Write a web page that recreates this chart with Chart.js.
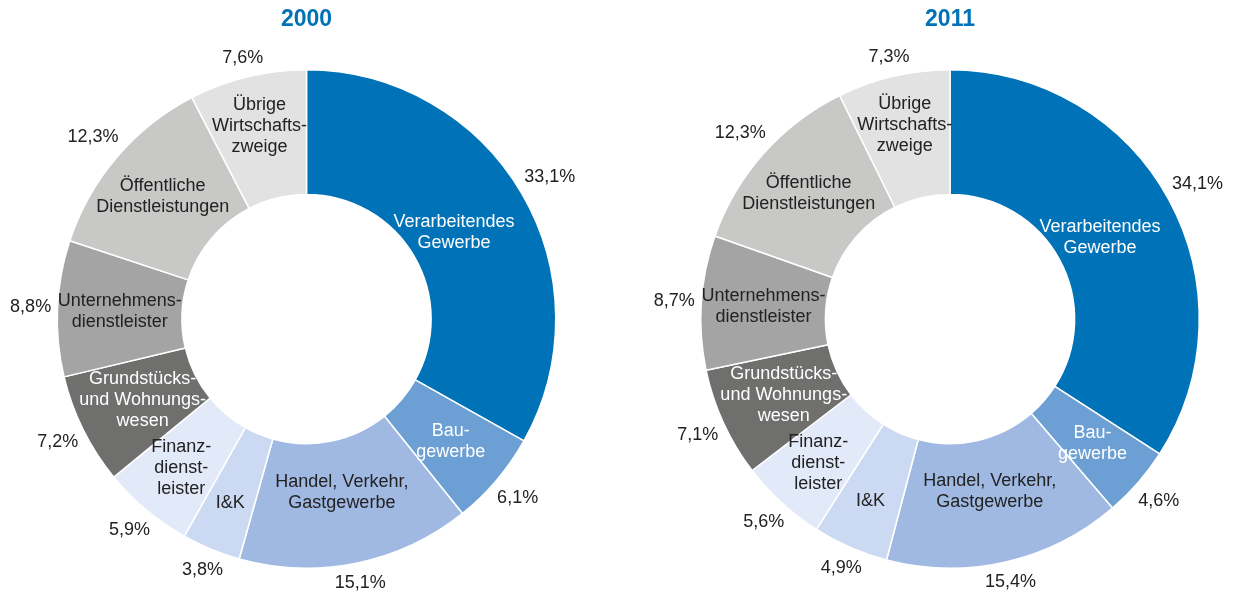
<!DOCTYPE html>
<html>
<head>
<meta charset="utf-8">
<script src="https://cdn.jsdelivr.net/npm/chart.js@4/dist/chart.umd.min.js"></script>
<style>
  html, body { margin: 0; padding: 0; background: #fff; }
  #wrap { display: flex; width: 1238px; height: 591px; }
  .box { position: relative; width: 619px; height: 591px; }
</style>
</head>
<body>
<div id="wrap">
  <div class="box"><canvas id="chart2000"></canvas></div>
  <div class="box"><canvas id="chart2011"></canvas></div>
</div>
<script>
// Sectors, clockwise from 12 o'clock
const categories = [
  ["Verarbeitendes", "Gewerbe"],
  ["Bau-", "gewerbe"],
  ["Handel, Verkehr,", "Gastgewerbe"],
  ["I&K"],
  ["Finanz-", "dienst-", "leister"],
  ["Grundstücks-", "und Wohnungs-", "wesen"],
  ["Unternehmens-", "dienstleister"],
  ["Öffentliche", "Dienstleistungen"],
  ["Übrige", "Wirtschafts-", "zweige"],
];
const values2000 = [33.1, 6.1, 15.1, 3.8, 5.9, 7.2, 8.8, 12.3, 7.6];
const values2011 = [34.1, 4.6, 15.4, 4.9, 5.6, 7.1, 8.7, 12.3, 7.3];

const sliceColors = ["#0072b8", "#6c9fd3", "#a0b9e2", "#cbd9f2", "#e2e9f8",
                     "#6f6f6e", "#a3a4a3", "#c8c8c7", "#e2e2e2"];
const labelColors = ["#fff", "#fff", "#222", "#222", "#222",
                     "#fff", "#222", "#222", "#222"];
// small radial nudges so labels sit like in the original
const labelShift = [-16, 2, -10, 12, 8, -4, 0, 2, 12];

const FONT = "'Liberation Sans', Arial, Helvetica, sans-serif";

const sliceLabels = {
  id: "sliceLabels",
  afterDatasetsDraw(chart, args, opts) {
    const c = chart.ctx;
    const meta = chart.getDatasetMeta(0);
    const data = chart.data.datasets[0].data;
    c.save();
    c.textAlign = "center";
    c.textBaseline = "middle";
    meta.data.forEach((arc, i) => {
      const p = arc.getProps(["x", "y", "startAngle", "endAngle", "innerRadius", "outerRadius"], true);
      const mid = (p.startAngle + p.endAngle) / 2;
      const cos = Math.cos(mid), sin = Math.sin(mid);
      const rIn = (p.innerRadius + p.outerRadius) / 2 + labelShift[i];
      const lx = p.x + cos * rIn;
      const ly = p.y + sin * rIn;
      const lines = categories[i];
      const lh = 21;
      c.font = "18px " + FONT;
      c.fillStyle = labelColors[i];
      lines.forEach((t, k) => {
        c.fillText(t, lx, ly + (k - (lines.length - 1) / 2) * lh);
      });
      // percentage just outside the ring
      const txt = data[i].toFixed(1).replace(".", ",") + "%";
      const w = c.measureText(txt).width;
      const rOut = p.outerRadius + 6 + (w / 2) * Math.abs(cos) + 9 * Math.abs(sin);
      c.fillStyle = "#222";
      c.fillText(txt, p.x + cos * rOut, p.y + sin * rOut);
    });
    // year title above the ring
    const a = chart.chartArea;
    c.font = "bold 23px " + FONT;
    c.fillStyle = "#0072b8";
    c.fillText(opts.title, (a.left + a.right) / 2, 20);
    c.restore();
  }
};

function makeChart(id, values, title, padding) {
  return new Chart(document.getElementById(id), {
    type: "doughnut",
    data: {
      labels: categories.map(l => l.join(" ")),
      datasets: [{
        data: values,
        backgroundColor: sliceColors,
        borderColor: "#ffffff",
        borderWidth: 1.5,
      }],
    },
    options: {
      responsive: true,
      maintainAspectRatio: false,
      animation: false,
      cutout: "50%",
      layout: { padding: padding },
      plugins: {
        legend: { display: false },
        tooltip: { enabled: false },
        sliceLabels: { title: title },
      },
    },
    plugins: [sliceLabels],
  });
}

makeChart("chart2000", values2000, "2000", { top: 69, bottom: 22, left: 0, right: 6 });
makeChart("chart2011", values2011, "2011", { top: 69, bottom: 22, left: 43, right: 0 });
</script>
</body>
</html>
